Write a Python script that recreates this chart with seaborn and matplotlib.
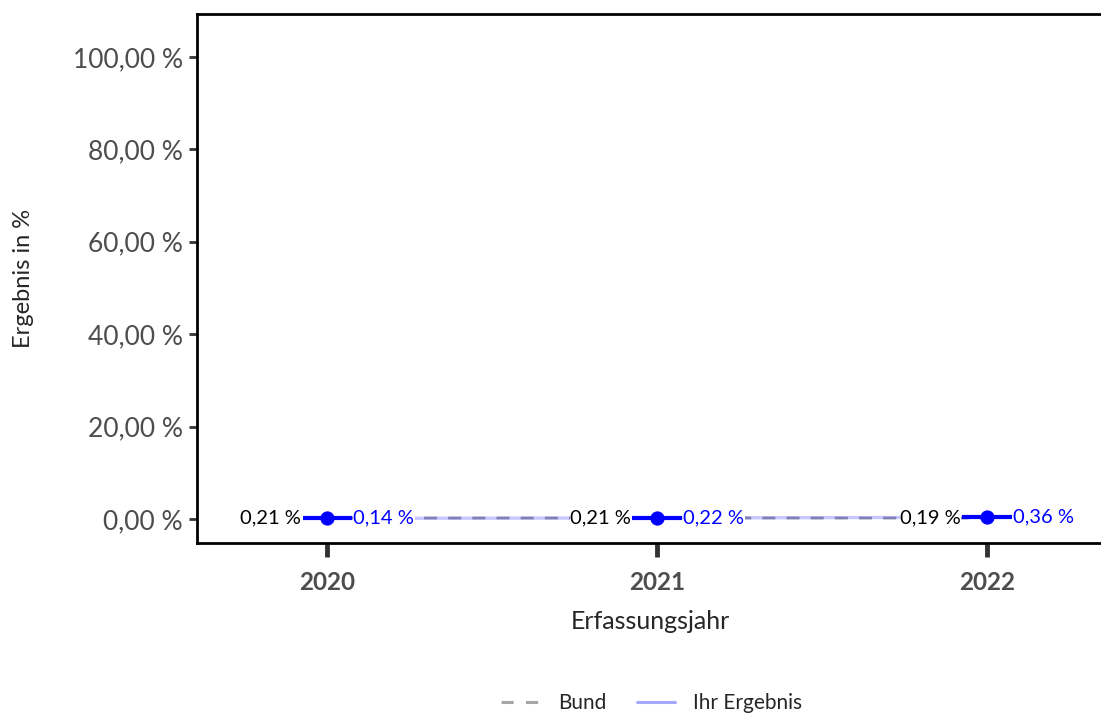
import pandas as pd
import numpy as np
import seaborn as sns
import matplotlib.pyplot as plt
from matplotlib.ticker import FuncFormatter
from matplotlib.lines import Line2D

# Werte aus dem Diagramm
jahre = [2020, 2021, 2022]
bund = [0.21, 0.21, 0.19]
ihr_ergebnis = [0.14, 0.22, 0.36]
y_ticks = [0, 20, 40, 60, 80, 100]

df = pd.DataFrame({'jahr': jahre, 'Bund': bund, 'Ihr Ergebnis': ihr_ergebnis})

sns.set_style('white')
plt.rcParams['font.family'] = ['Lato', 'DejaVu Sans']

fig = plt.figure(figsize=(11.01, 7.15), dpi=100)
ax = fig.add_axes([197 / 1101, 1 - 543 / 715, 1 - 197 / 1101 + 0.002, (543 - 14) / 715])

blau = '#0000ff'
grau = '#a6a6a6'

# Linien
sns.lineplot(data=df, x='jahr', y='Bund', ax=ax, color=grau, linewidth=2.0,
             dashes=False, zorder=1)
ax.lines[-1].set_dashes((4.7, 4))
sns.lineplot(data=df, x='jahr', y='Ihr Ergebnis', ax=ax, color=blau,
             linewidth=2.4, alpha=0.22, zorder=2)

# Segmente und Punkte je Jahr
breite = 0.075
ax.hlines(df['Ihr Ergebnis'], df['jahr'] - breite, df['jahr'] + breite,
          color=blau, linewidth=3, zorder=4)
sns.scatterplot(data=df, x='jahr', y='Ihr Ergebnis', ax=ax, color=blau, s=90,
                edgecolor=blau, zorder=5, legend=False)

def fmt(v):
    return f'{v:.2f}'.replace('.', ',') + ' %'

for j, b, e in zip(jahre, bund, ihr_ergebnis):
    ax.text(j - breite - 0.004, b, fmt(b), ha='right', va='center', fontsize=14.5,
            color='black', zorder=3,
            bbox=dict(facecolor='white', edgecolor='none', pad=0.5))
    ax.text(j + breite + 0.004, e, fmt(e), ha='left', va='center', fontsize=14.5,
            color=blau, zorder=3,
            bbox=dict(facecolor='white', edgecolor='none', pad=0.5))

# Achsen
ax.set_xlim(2020 - 130 / 329, 2022 + 116 / 329)
ax.set_ylim(-5.2, 109.3)
ax.set_xticks(jahre)
ax.set_xticklabels([str(j) for j in jahre], fontsize=17.5, fontweight='bold',
                   color='#4d4d4d')
ax.set_yticks(y_ticks)
ax.yaxis.set_major_formatter(FuncFormatter(lambda v, p: fmt(v)))
ax.tick_params(axis='y', labelsize=19, labelcolor='#4d4d4d', length=6, width=2,
               color='#333333', left=True, pad=4)
ax.tick_params(axis='x', length=10, width=3.5, color='#333333', bottom=True, pad=10)

for s in ['left', 'bottom', 'top']:
    ax.spines[s].set_color('black')
    ax.spines[s].set_linewidth(2)
ax.spines['right'].set_visible(False)

ax.set_xlabel('Erfassungsjahr', fontsize=18, labelpad=12)
ax.set_ylabel('Ergebnis in %', fontsize=17, labelpad=28)

handles = [Line2D([0], [0], color=grau, lw=2.2, dashes=(4, 4)),
           Line2D([0], [0], color=blau, lw=2.2, alpha=0.35)]
fig.legend(handles, ['Bund', 'Ihr Ergebnis'], loc='center', ncol=2,
           bbox_to_anchor=(0.592, 1 - 703 / 715), frameon=False, fontsize=15,
           handlelength=1.85, columnspacing=1.45, handletextpad=0.87)

fig.savefig('out.png', dpi=100)
